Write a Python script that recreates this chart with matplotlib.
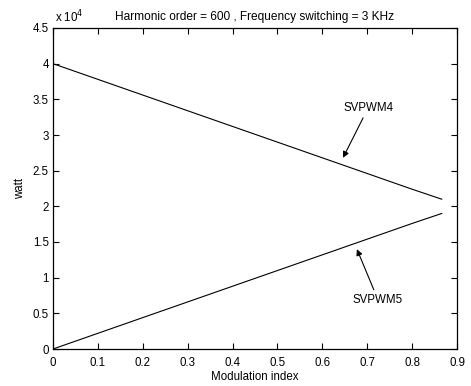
import numpy as np
import matplotlib.pyplot as plt
from matplotlib.ticker import FuncFormatter

plt.rcParams['font.family'] = ['Liberation Sans', 'DejaVu Sans']

# modulation index samples and losses (watt)
m = [0.0, 0.1, 0.2, 0.3, 0.4, 0.5, 0.6, 0.7, 0.8, 0.866]
svpwm4 = [40000, 37800, 35600, 33400, 31200, 29000, 26800, 24600, 22400, 21000]
svpwm5 = [0, 2200, 4400, 6600, 8800, 11000, 13200, 15400, 17600, 19000]

fs = 8.3

fig = plt.figure(figsize=(4.71, 3.86), dpi=100)
ax = fig.add_axes([53/471, 37/386, 404/471, 321/386])

ax.plot(m, svpwm4, color='k', lw=0.8)
ax.plot(m, svpwm5, color='k', lw=0.8)

ax.set_xlim(0, 0.9)
ax.set_ylim(0, 45000)
ax.set_xticks(np.arange(0, 0.91, 0.1))
ax.set_yticks(np.arange(0, 45001, 5000))
ax.xaxis.set_major_formatter(FuncFormatter(lambda v, p: '%g' % round(v, 2)))
ax.yaxis.set_major_formatter(FuncFormatter(lambda v, p: '%g' % (v / 1e4)))
ax.tick_params(direction='in', top=True, right=True, labelsize=fs, length=4, width=0.8)
ax.tick_params(axis='x', pad=6)
ax.tick_params(axis='y', pad=3)
for s in ax.spines.values():
    s.set_linewidth(0.9)

ax.set_xlabel('Modulation index', fontsize=fs, labelpad=1.5)
ax.set_ylabel('watt', fontsize=fs, labelpad=5)
ax.set_title('Harmonic order = 600 , Frequency switching = 3 KHz', fontsize=8.6, pad=5.5)
ax.text(0.005, 1.008, r'x 10$^{4}$', transform=ax.transAxes, fontsize=fs, va='bottom')

arrow = dict(arrowstyle='-|>', color='k', lw=0.8, mutation_scale=9, shrinkA=1, shrinkB=0)
ax.annotate('SVPWM4', xy=(0.646, 26800), xytext=(0.702, 33800),
            fontsize=fs, ha='center', va='center', arrowprops=arrow)
ax.annotate('SVPWM5', xy=(0.677, 14000), xytext=(0.724, 6900),
            fontsize=fs, ha='center', va='center', arrowprops=arrow)

fig.savefig('out.png', dpi=100)
